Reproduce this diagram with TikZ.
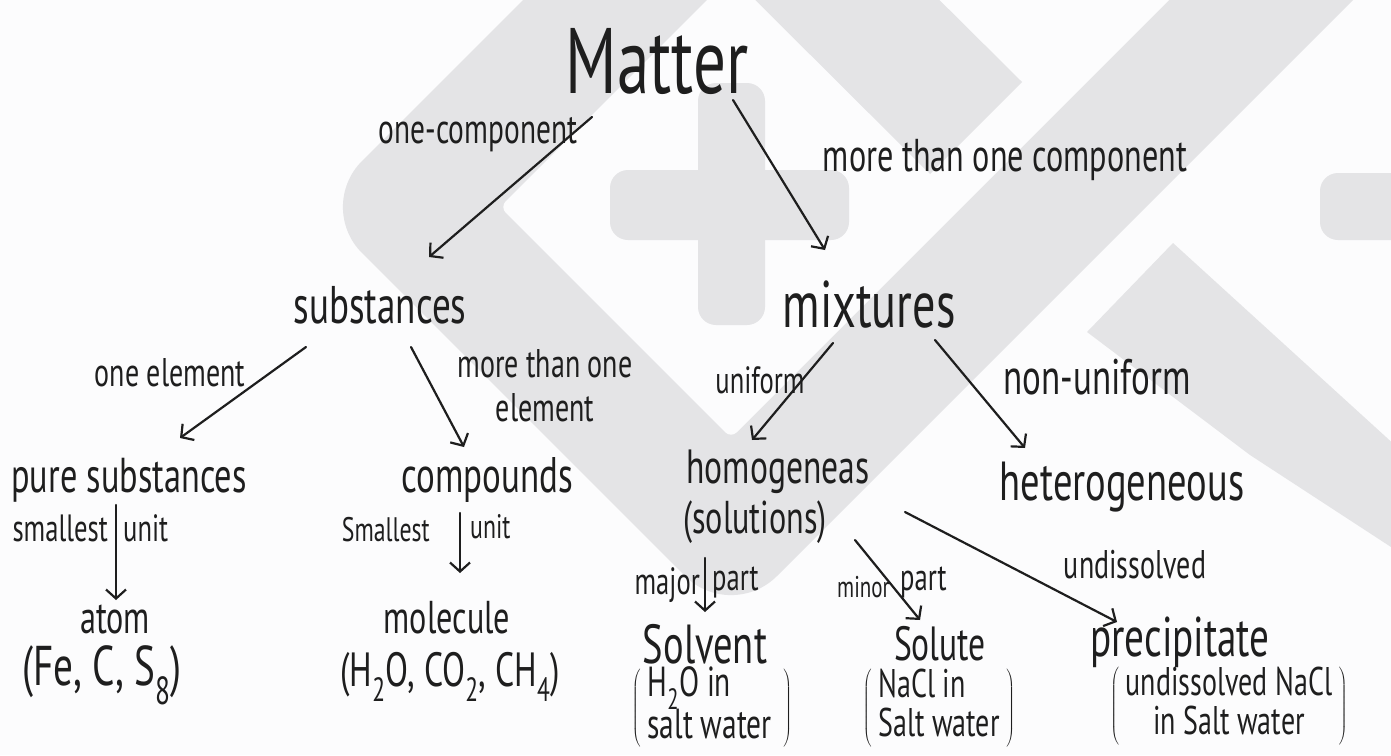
\documentclass[tikz,border=0pt]{standalone}
\usepackage{fontspec}
\setmainfont{PT Sans}[FakeStretch=0.7]
\usepackage{tikz}
\usetikzlibrary{arrows.meta}
\definecolor{Ink}{RGB}{30,30,30}
\definecolor{Wmark}{RGB}{228,228,230}
\definecolor{Paper}{RGB}{252,252,253}

\begin{document}
\begin{tikzpicture}[x=1pt, y=-1pt,
		txt/.style 2 args={inner sep=0pt, text=Ink, font=\fontsize{#1}{#2}\selectfont},
		arr/.style={draw=Ink, line width=2.2pt, line cap=round, -{Straight Barb[length=9pt, width=20pt]}},
		wmark/.style={fill=Wmark}]
		\useasboundingbox (0,0) rectangle (1391,755);
		\fill[Paper] (0,0) rectangle (1391,755);
		% watermark
		\fill[wmark, rounded corners=65pt] (583,-60) -- (316,207) -- (731,622) -- (1413,-60) -- cycle;
		\fill[Paper, rounded corners=8pt] (767,-60) -- (500,207) -- (731,438) -- (1229,-60) -- cycle;
		\fill[wmark] (695,-60) -- (879,-60) -- (1022,82) -- (930,174) -- cycle;
		\fill[wmark, rounded corners=18pt] (698,83) rectangle (765,325);
		\fill[wmark, rounded corners=18pt] (610,170) rectangle (849,240);
		\fill[wmark] (1173,243) -- (1431,478) -- (1431,573) -- (1391,547) -- (1250,455) -- (1087,332) -- cycle;
		\fill[wmark, rounded corners=18pt] (1320,173) rectangle (1451,240);

		% top
		\node[txt={93}{95}] (matter) at (657,62) {Matter};
		\node[txt={53}{55}] (sub) at (380,305) {substances};
		\node[txt={66}{68}] (mix) at (869,305) {mixtures};
		\node[txt={42}{44}] (lOneComp) at (478,135) {one-component};
		\node[txt={46}{48}] (lMoreComp) at (1005,160) {more than one component};
		\draw[arr] ([shift={(-65,55)}]matter.center) -- ([shift={(49,-48)}]sub.center);
		\draw[arr] ([shift={(76,38)}]matter.center) -- ([shift={(-44,-55)}]mix.center);

		% substances
		\node[txt={49}{51}] (pure) at (129,480) {pure substances};
		\node[txt={50}{52}] (comp) at (487,480) {compounds};
		\node[txt={40}{42}] (lOneEl) at (170,373) {one element};
		\node[txt={40}{44}, align=center] (lMoreEl) at (545,386) {more than one\\element};
		\draw[arr] ([shift={(-74,42)}]sub.center) -- ([shift={(51,-42)}]pure.center);
		\draw[arr] ([shift={(31,42)}]sub.center) -- ([shift={(-23,-33)}]comp.center);

		\node[txt={46}{48}] (atom) at (115,619) {atom};
		\node[txt={56}{58}] (atomEx) at (102,675) {(Fe, C, S\textsubscript{8})};
		\node[txt={38}{40}, anchor=east] (lSmall) at (108,528) {smallest};
		\node[txt={38}{40}, anchor=west] (lUnit) at (123,528) {unit};
		\draw[arr] ([shift={(-13,25)}]pure.center) -- ([shift={(1,-19)}]atom.center);

		\node[txt={46}{48}] (mol) at (447,618) {molecule};
		\node[txt={48}{50}] (molEx) at (450,677) {(H\textsubscript{2}O, CO\textsubscript{2}, CH\textsubscript{4})};
		\node[txt={34}{36}, anchor=east] (lSmallB) at (430,530) {Smallest};
		\node[txt={34}{36}, anchor=west] (lUnitB) at (470,527) {unit};
		\draw[arr] ([shift={(-27,33)}]comp.center) -- ([shift={(13,-45)}]mol.center);

		% mixtures
		\node[txt={48}{50}] (homo) at (778,472) {homogeneas};
		\node[txt={46}{48}] (sols) at (755,522) {(solutions)};
		\node[txt={55}{57}] (hetero) at (1122,487) {heterogeneous};
		\node[txt={38}{40}] (lUni) at (760,380) {uniform};
		\node[txt={50}{52}] (lNonUni) at (1097,377) {non-uniform};
		\draw[arr] ([shift={(-36,38)}]mix.center) -- ([shift={(-26,-32)}]homo.center);
		\draw[arr] ([shift={(66,35)}]mix.center) -- ([shift={(-97,-39)}]hetero.center);

		% solutions
		\node[txt={55}{57}] (solvent) at (705,644) {Solvent};
		\node[txt={48}{50}] (solute) at (940,644) {Solute};
		\node[txt={56}{58}] (precip) at (1180,642) {precipitate};
		\node[txt={42}{35}] (solventEx) at (712,708)
			{$\left(\begin{tabular}{@{\,}l@{\;}}H\textsubscript{2}O in\\salt water\end{tabular}\right)$};
		\node[txt={40}{34}] (soluteEx) at (939,708)
			{$\left(\begin{tabular}{@{\,}l@{\,}}NaCl in\\Salt water\end{tabular}\right)$};
		\node[txt={40}{35}] (precipEx) at (1229,706)
			{$\left(\begin{tabular}{@{\,}c@{\,}}undissolved NaCl\\in Salt water\end{tabular}\right)$};
		\node[txt={38}{40}, anchor=east] (lMajor) at (700,585) {major};
		\node[txt={38}{40}, anchor=west] (lPartA) at (712,582) {part};
		\node[txt={30}{32}, anchor=east] (lMinor) at (890,587) {minor};
		\node[txt={38}{40}, anchor=west] (lPartB) at (900,582) {part};
		\node[txt={40}{42}] (lUndis) at (1135,565) {undissolved};
		\draw[arr] ([shift={(-50,36)}]sols.center) -- ([shift={(0,-32)}]solvent.center);
		\draw[arr] ([shift={(100,18)}]sols.center) -- ([shift={(-20,-24)}]solute.center);
		\draw[arr] ([shift={(127,40)}]homo.center) -- ([shift={(-63,-20)}]precip.center);
	\end{tikzpicture}
\end{document}
